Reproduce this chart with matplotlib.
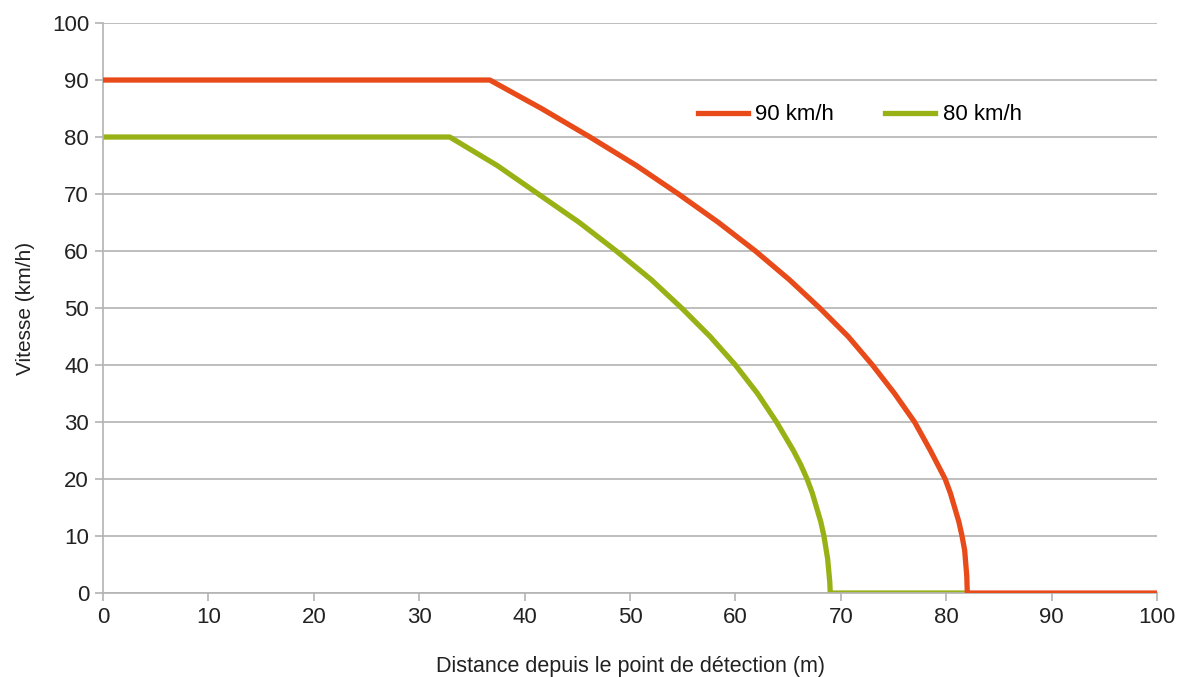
import matplotlib
matplotlib.use("Agg")
import matplotlib.pyplot as plt

# Data (distance in m, speed in km/h)
dist_90 = [0, 36.7, 41.6, 46.2, 50.6, 54.6, 58.4, 61.9, 65.1, 68.0, 70.7, 73.0,
           75.1, 77.0, 78.5, 79.2, 79.9, 80.4, 80.8, 81.2, 81.5, 81.75, 81.95, 82.0, 100]
speed_90 = [90, 90, 85, 80, 75, 70, 65, 60, 55, 50, 45, 40,
            35, 30, 25, 22.5, 20, 17.5, 15, 12.5, 10, 7.5, 3, 0, 0]

dist_80 = [0, 32.9, 37.4, 41.3, 45.2, 48.7, 52.0, 54.9, 57.6, 60.0, 62.1, 63.9,
           65.5, 66.2, 66.8, 67.3, 67.7, 68.1, 68.4, 68.75, 68.95, 69.0, 82.0]
speed_80 = [80, 80, 75, 70, 65, 60, 55, 50, 45, 40, 35, 30,
            25, 22.5, 20, 17.5, 15, 12.5, 10, 6, 2, 0, 0]

labels = ["90 km/h", "80 km/h"]
x_ticks = list(range(0, 101, 10))
y_ticks = list(range(0, 101, 10))

plt.rcParams['font.family'] = ['Liberation Sans', 'DejaVu Sans']

fig = plt.figure(figsize=(11.81, 6.77), dpi=100)
ax = fig.add_axes([0.0872, 0.124, 0.8925, 0.842])

grid_col = '#b3b3b3'
txt_col = '#222222'
ax.plot(dist_90, speed_90, color='#e84a1a', lw=3.8, label=labels[0], solid_joinstyle='round', zorder=3)
ax.plot(dist_80, speed_80, color='#98b216', lw=3.8, label=labels[1], solid_joinstyle='round', zorder=2)

ax.set_xlim(0, 100)
ax.set_ylim(0, 100)
ax.set_xticks(x_ticks)
ax.set_yticks(y_ticks)
ax.yaxis.grid(True, color=grid_col, lw=1.2)
ax.set_axisbelow(True)

for s in ['top', 'right']:
    ax.spines[s].set_visible(False)
for s in ['left', 'bottom']:
    ax.spines[s].set_color(grid_col)
    ax.spines[s].set_linewidth(1.2)

ax.tick_params(axis='both', colors=grid_col, length=6, width=1.2, labelsize=16,
               labelcolor=txt_col, pad=4)

ax.set_xlabel('Distance depuis le point de détection (m)', fontsize=15.5, color=txt_col, labelpad=20)
ax.set_ylabel('Vitesse (km/h)', fontsize=15, color=txt_col, labelpad=12)

ax.legend(loc='center', bbox_to_anchor=(0.718, 0.839), ncol=2, frameon=False,
          fontsize=16, handlelength=2.25, handletextpad=0.35, columnspacing=2.3)

fig.savefig('out.png', dpi=100)
